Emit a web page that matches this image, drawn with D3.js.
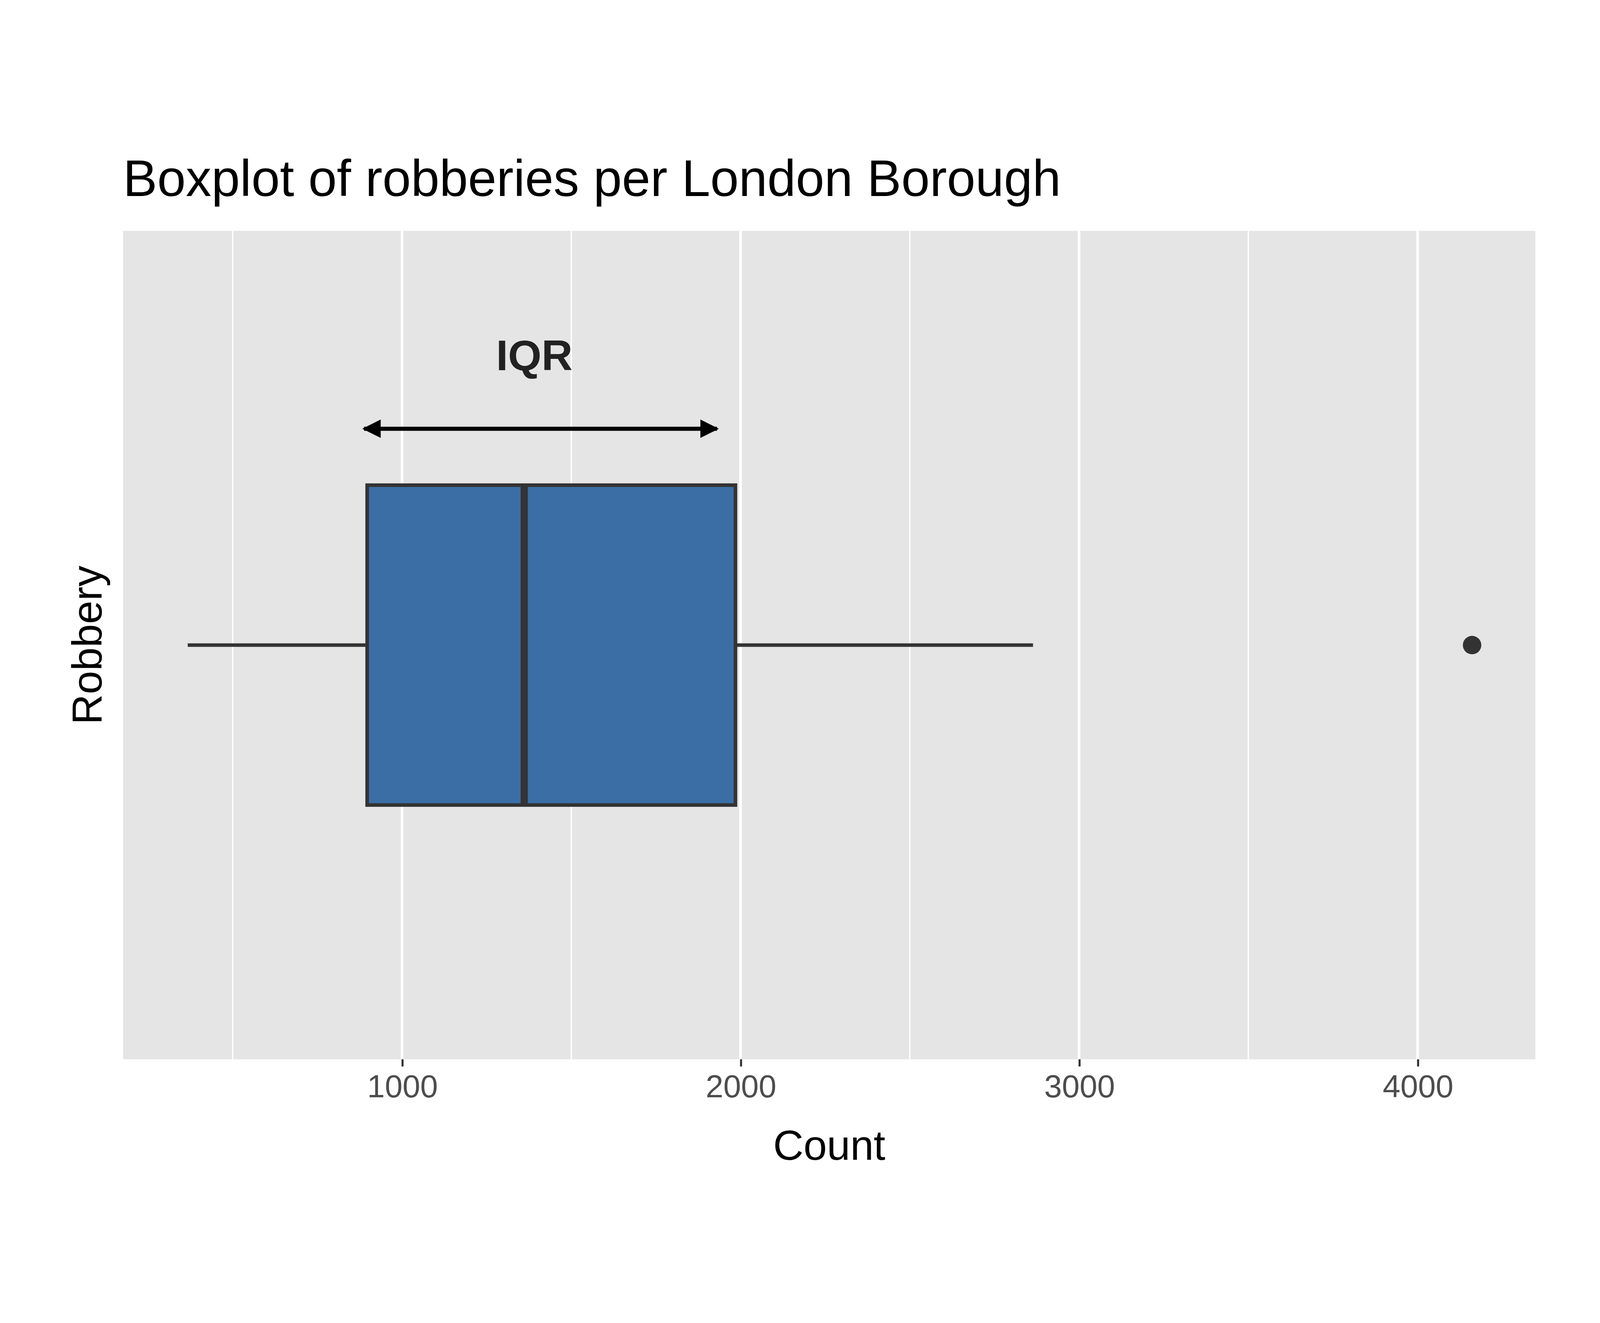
<!DOCTYPE html>
<html><head><meta charset="utf-8">
<script src="https://cdn.jsdelivr.net/npm/d3@7"></script>
<style>html,body{margin:0;padding:0;background:#fff;overflow:hidden;width:100vw;height:100vh}#chart svg{display:block}text{font-family:"Liberation Sans",Arial,sans-serif}</style>
</head><body>
<div id="chart"></div>
<script>
// data
var category = ["Robbery"];
var stats = { lower: 367, q1: 897, median: 1361, q3: 1985, upper: 2864 };
var outliers = [4161];
var majorTicks = [1000, 2000, 3000, 4000];
var minorTicks = [500, 1500, 2500, 3500];

var W = 1560, H = 1120;
var panel = { left: 120, right: 1497, top: 140, bottom: 948 };

var svg = d3.select("#chart").append("svg")
    .attr("width", window.innerWidth).attr("height", window.innerHeight)
    .attr("viewBox", "0 0 " + W + " " + H)
    .attr("preserveAspectRatio", "xMidYMid meet");

var x = d3.scaleLinear().domain([176, 4348]).range([panel.left, panel.right]);
var y = d3.scaleBand().domain(category).range([panel.top, panel.bottom]).paddingOuter(0.795);

svg.append("rect")
    .attr("x", panel.left).attr("y", panel.top)
    .attr("width", panel.right - panel.left).attr("height", panel.bottom - panel.top)
    .attr("fill", "#e5e5e5");

svg.selectAll(".minor").data(minorTicks).enter().append("line")
    .attr("x1", d => x(d)).attr("x2", d => x(d))
    .attr("y1", panel.top).attr("y2", panel.bottom)
    .attr("stroke", "#fff").attr("stroke-width", 1.3);
svg.selectAll(".major").data(majorTicks).enter().append("line")
    .attr("x1", d => x(d)).attr("x2", d => x(d))
    .attr("y1", panel.top).attr("y2", panel.bottom)
    .attr("stroke", "#fff").attr("stroke-width", 2.6);

// x axis
var xAxis = svg.append("g")
    .attr("transform", "translate(0," + panel.bottom + ")")
    .call(d3.axisBottom(x).tickValues(majorTicks).tickSize(7).tickPadding(8).tickFormat(d3.format("d")));
xAxis.select(".domain").remove();
xAxis.selectAll("line").attr("stroke", "#333").attr("stroke-width", 2);
xAxis.selectAll("text").attr("font-size", 31).attr("fill", "#4d4d4d")
    .style("font-family", "Liberation Sans, Arial, sans-serif");

var cy = y("Robbery") + y.bandwidth() / 2;

// whiskers
svg.append("line").attr("x1", x(stats.lower)).attr("x2", x(stats.q1))
    .attr("y1", cy).attr("y2", cy).attr("stroke", "#333").attr("stroke-width", 3.5);
svg.append("line").attr("x1", x(stats.q3)).attr("x2", x(stats.upper))
    .attr("y1", cy).attr("y2", cy).attr("stroke", "#333").attr("stroke-width", 3.5);

// box
svg.append("rect")
    .attr("x", x(stats.q1)).attr("y", y("Robbery"))
    .attr("width", x(stats.q3) - x(stats.q1)).attr("height", y.bandwidth())
    .attr("fill", "#3a6ea5").attr("stroke", "#333").attr("stroke-width", 3.5);
svg.append("line").attr("x1", x(stats.median)).attr("x2", x(stats.median))
    .attr("y1", y("Robbery")).attr("y2", y("Robbery") + y.bandwidth())
    .attr("stroke", "#333").attr("stroke-width", 7);

svg.selectAll(".out").data(outliers).enter().append("circle")
    .attr("cx", d => x(d)).attr("cy", cy).attr("r", 9).attr("fill", "#333");

// IQR annotation
var defs = svg.append("defs");
defs.append("marker").attr("id", "ah").attr("viewBox", "0 0 10 10")
    .attr("refX", 9).attr("refY", 5).attr("markerWidth", 26).attr("markerHeight", 18)
    .attr("markerUnits", "userSpaceOnUse").attr("orient", "auto-start-reverse")
    .append("path").attr("d", "M0,0 L10,5 L0,10 z").attr("fill", "#000");
svg.append("line")
    .attr("x1", x(stats.q1) - 3).attr("x2", x(stats.q3) - 18)
    .attr("y1", 333).attr("y2", 333)
    .attr("stroke", "#000").attr("stroke-width", 4)
    .attr("marker-start", "url(#ah)").attr("marker-end", "url(#ah)");
svg.append("text").attr("x", 521).attr("y", 276).attr("text-anchor", "middle")
    .attr("font-size", 42).attr("font-weight", "bold").attr("fill", "#222").text("IQR");

// titles
svg.append("text").attr("x", 120).attr("y", 106).attr("font-size", 50).attr("fill", "#000")
    .text("Boxplot of robberies per London Borough");
svg.append("text").attr("x", (panel.left + panel.right) / 2).attr("y", 1046)
    .attr("text-anchor", "middle").attr("font-size", 41).attr("fill", "#000").text("Count");
svg.append("text").attr("transform", "translate(99," + cy + ") rotate(-90)")
    .attr("text-anchor", "middle").attr("font-size", 41).attr("fill", "#000").text("Robbery");
</script>
</body></html>
